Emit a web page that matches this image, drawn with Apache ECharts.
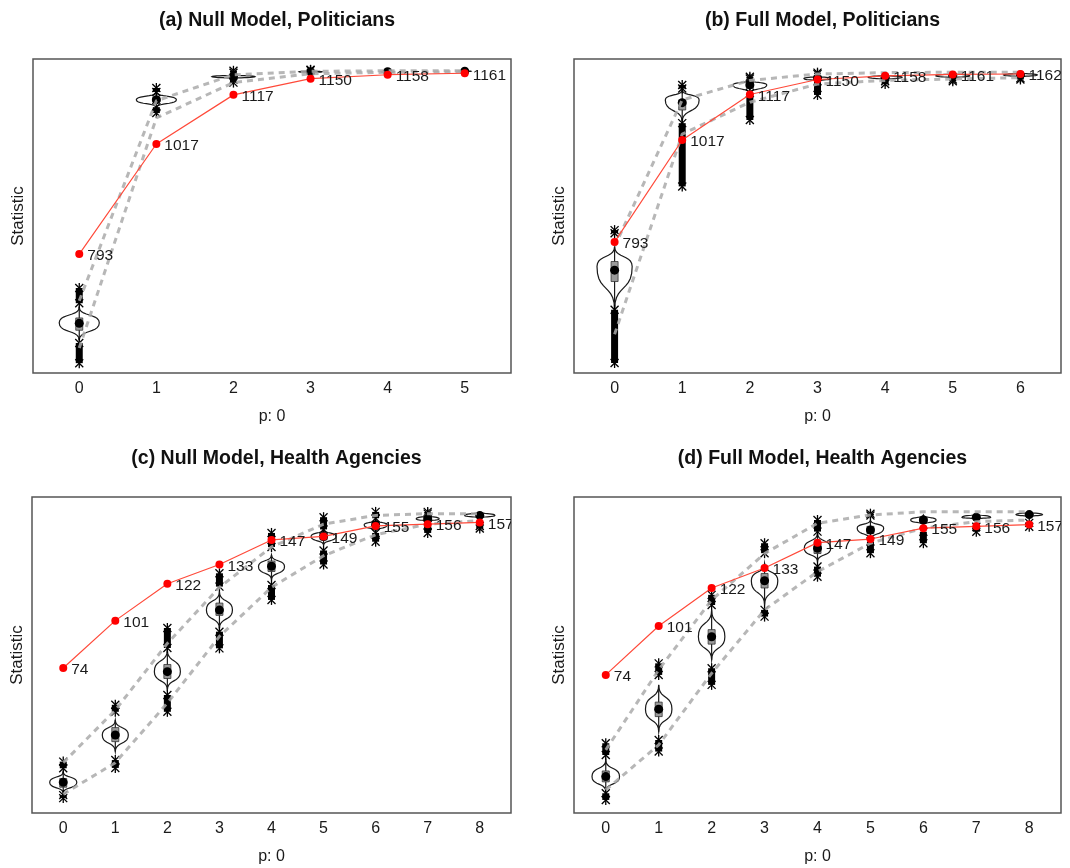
<!DOCTYPE html>
<html>
<head>
<meta charset="utf-8">
<script src="https://cdn.jsdelivr.net/npm/echarts@6/dist/echarts.min.js"></script>
<style>
    html, body { margin: 0; padding: 0; background: #fff; }
    #gof { width: 1070px; height: 868px; }
</style>
</head>
<body>
<div id="gof"></div>
<script>
// observed statistic (red line)
var obsA = [793, 1017, 1117, 1150, 1158, 1161];
var obsB = [793, 1017, 1117, 1150, 1158, 1161, 1162];
var obsC = [74, 101, 122, 133, 147, 149, 155, 156, 157];
var obsD = [74, 101, 122, 133, 147, 149, 155, 156, 157];

// simulated quantile lines (grey dashed)
var upperA = [698, 1105, 1158, 1165, 1166, 1166];
var lowerA = [602, 1070, 1142, 1160, 1163, 1164];
var upperB = [783, 1105, 1148, 1162, 1165, 1166, 1166];
var lowerB = [590, 1030, 1100, 1140, 1148, 1151, 1154];
var upperC = [20, 50, 88, 120, 143, 156, 161, 162, 162];
var lowerC = [2, 20, 54, 92, 120, 138, 150, 156, 158];
var upperD = [32.6, 76.8, 115.4, 141, 157.7, 162.3, 164, 164, 164];
var lowerD = [10.5, 35.4, 74.9, 109.9, 131, 146.7, 155, 158.6, 159.5];

// violins: [x, low, widest, high, half width]
var violinA = [[0, 618, 653, 685, 0.26], [1, 1091, 1107, 1122, 0.26], [2, 1150, 1154, 1158, 0.28],
    [3, 1162, 1164, 1166, 0.15], [4, 1163, 1164, 1166, 0.08], [5, 1164, 1165, 1166, 0.08]];
var violinB = [[0, 644, 739, 783, 0.26], [1, 1057, 1105, 1127, 0.25], [2, 1120, 1138, 1149, 0.25],
    [3, 1146, 1152, 1158, 0.2], [4, 1149, 1155, 1160, 0.25], [5, 1153, 1158, 1164, 0.25], [6, 1155, 1160, 1165, 0.25]];
var violinC = [[0, 2.5, 8.8, 14.8, 0.26], [1, 26.3, 35.8, 44.3, 0.25], [2, 61.4, 71.9, 84.3, 0.25],
    [3, 96.6, 107.1, 117.5, 0.25], [4, 124.2, 131.8, 138.5, 0.25], [5, 144, 149, 153, 0.24],
    [6, 151.8, 155.6, 158.4, 0.22], [7, 157.5, 159, 161.3, 0.22], [8, 159.4, 161, 163, 0.29]];
var violinD = [[0, 9.6, 17.9, 27.1, 0.26], [1, 42.7, 55.1, 68.5, 0.25], [2, 82.3, 95.1, 109.9, 0.25],
    [3, 112.6, 126, 135.6, 0.25], [4, 136.5, 143.9, 152.2, 0.25], [5, 148.5, 155, 159.5, 0.25],
    [6, 156.8, 159.5, 162.3, 0.24], [7, 160, 161, 163, 0.27], [8, 161.3, 162.5, 164, 0.25]];

// boxes: [x, q1, median, q3]
var boxA = [[0, 638, 652, 663], [1, 1102, 1107, 1112], [2, 1152, 1154, 1156], [3, 1163, 1164, 1165], [4, 1163, 1164, 1165], [5, 1164, 1165, 1166]];
var boxB = [[0, 706, 731, 750], [1, 1083, 1099, 1105], [2, 1130, 1138, 1142], [3, 1148, 1152, 1155], [4, 1153, 1155, 1157], [5, 1156, 1158, 1160], [6, 1158, 1160, 1162]];
var boxC = [[0, 6, 8.8, 11], [1, 32, 35.8, 40], [2, 68, 71.9, 76], [3, 104, 107, 111], [4, 129, 132, 135], [5, 147, 149, 151], [6, 154, 155.6, 157], [7, 158, 159, 160], [8, 160, 161, 162]];
var boxD = [[0, 15, 17.9, 21], [1, 51, 55.1, 59], [2, 91, 95.1, 99], [3, 122, 126, 130], [4, 141, 143.9, 147], [5, 152, 154, 156], [6, 158, 159.5, 161], [7, 160, 161, 162], [8, 161.5, 162.5, 163.5]];

// outlier clusters: [x, from, to]
var outA = [[0, 693, 724], [0, 571, 612], [1, 1123, 1131], [1, 1080, 1092], [2, 1162, 1166], [2, 1142, 1148], [3, 1167, 1168]];
var outB = [[0, 527, 644], [0, 812, 819], [1, 915, 1054], [1, 1130, 1138], [2, 1061, 1120], [2, 1152, 1156],
    [3, 1116, 1146], [3, 1162, 1165], [4, 1140, 1146], [5, 1146, 1150], [6, 1150, 1153]];
var outC = [[0, 16.8, 20.6], [0, -0.2, 1.5], [1, 49, 53], [1, 17, 21.5], [2, 85.4, 96.8], [2, 49, 58.6],
    [3, 120.4, 128], [3, 85.2, 94.7], [4, 143, 151], [4, 112.8, 121.3], [5, 153, 160], [5, 133, 141],
    [6, 159.4, 163], [6, 146, 151], [7, 162, 163], [7, 151, 155.6], [8, 153.5, 155]];
var outD = [[0, 29.8, 36.3], [0, 5, 8.7], [1, 74, 80.4], [1, 31.7, 38.1], [2, 112.6, 118.2], [2, 68.5, 77.7],
    [3, 141.2, 146.7], [3, 106.2, 109.9], [4, 153.1, 159.5], [4, 128.2, 133.8], [5, 162, 163], [5, 141.2, 147.6],
    [6, 146.7, 153], [7, 153, 155.8], [8, 155.8, 157.9]];

// tick labels
var ticksA = [0, 1, 2, 3, 4, 5];
var ticksB = [0, 1, 2, 3, 4, 5, 6];
var ticksC = [0, 1, 2, 3, 4, 5, 6, 7, 8];
var ticksD = [0, 1, 2, 3, 4, 5, 6, 7, 8];

var FONT = "'Liberation Sans', Arial, Helvetica, sans-serif";

var panels = [
    { title: '(a) Null Model, Politicians', obs: obsA, up: upperA, lo: lowerA, vio: violinA, box: boxA, out: outA, ticks: ticksA,
      ymin: 551, ymax: 1190, grid: { left: 33, top: 59, width: 478, height: 314 } },
    { title: '(b) Full Model, Politicians', obs: obsB, up: upperB, lo: lowerB, vio: violinB, box: boxB, out: outB, ticks: ticksB,
      ymin: 505, ymax: 1195, grid: { left: 574, top: 59, width: 487, height: 314 } },
    { title: '(c) Null Model, Health Agencies', obs: obsC, up: upperC, lo: lowerC, vio: violinC, box: boxC, out: outC, ticks: ticksC,
      ymin: -8.7, ymax: 171.5, grid: { left: 32, top: 497, width: 479, height: 316 } },
    { title: '(d) Full Model, Health Agencies', obs: obsD, up: upperD, lo: lowerD, vio: violinD, box: boxD, out: outD, ticks: ticksD,
      ymin: -2.2, ymax: 172.2, grid: { left: 574, top: 497, width: 487, height: 316 } }
];

function pairs(arr) {
    return arr.map(function (v, i) { return [i, v]; });
}

// sample one cubic bezier segment
function bez(p0, p1, p2, p3, n, out) {
    for (var k = 0; k <= n; k++) {
        var t = k / n, u = 1 - t;
        out.push([
            u * u * u * p0[0] + 3 * u * u * t * p1[0] + 3 * u * t * t * p2[0] + t * t * t * p3[0],
            u * u * u * p0[1] + 3 * u * u * t * p1[1] + 3 * u * t * t * p2[1] + t * t * t * p3[1]
        ]);
    }
}

function violinItem(params, api) {
    var x = api.value(0);
    var t = api.coord([x, api.value(3)]);
    var p = api.coord([x, api.value(2)]);
    var b = api.coord([x, api.value(1)]);
    var w = api.size([api.value(4), 0])[0];
    var cx = t[0];
    var d1 = (p[1] - t[1]) * 0.6, d2 = (b[1] - p[1]) * 0.6;
    var pts = [];
    bez([cx, t[1]], [cx, t[1] + d1], [cx + w, p[1] - d1], [cx + w, p[1]], 10, pts);
    bez([cx + w, p[1]], [cx + w, p[1] + d2], [cx, b[1] - d2], [cx, b[1]], 10, pts);
    bez([cx, b[1]], [cx, b[1] - d2], [cx - w, p[1] + d2], [cx - w, p[1]], 10, pts);
    bez([cx - w, p[1]], [cx - w, p[1] - d1], [cx, t[1] + d1], [cx, t[1]], 10, pts);
    return {
        type: 'group',
        children: [
            { type: 'polygon', shape: { points: pts }, style: { fill: 'rgba(0,0,0,0)', stroke: '#1a1a1a', lineWidth: 1.2 } },
            { type: 'line', shape: { x1: cx, y1: t[1], x2: cx, y2: b[1] }, style: { stroke: '#1a1a1a', lineWidth: 1.2 } }
        ]
    };
}

function boxItem(params, api) {
    var x = api.value(0);
    var q1 = api.coord([x, api.value(1)]);
    var md = api.coord([x, api.value(2)]);
    var q3 = api.coord([x, api.value(3)]);
    return {
        type: 'group',
        children: [
            { type: 'rect', shape: { x: q3[0] - 3.5, y: q3[1], width: 7, height: Math.max(q1[1] - q3[1], 2) },
              style: { fill: '#9a9a9a', stroke: '#333', lineWidth: 0.8 } },
            { type: 'circle', shape: { cx: md[0], cy: md[1], r: 4.5 }, style: { fill: '#000' } }
        ]
    };
}

function star(cx, cy, s) {
    var st = { stroke: '#000', lineWidth: 1.3 };
    return [
        { type: 'line', shape: { x1: cx - s, y1: cy - s, x2: cx + s, y2: cy + s }, style: st },
        { type: 'line', shape: { x1: cx - s, y1: cy + s, x2: cx + s, y2: cy - s }, style: st },
        { type: 'line', shape: { x1: cx, y1: cy - s - 1, x2: cx, y2: cy + s + 1 }, style: st }
    ];
}

function outlierItem(params, api) {
    var x = api.value(0);
    var a = api.coord([x, api.value(1)]);
    var b = api.coord([x, api.value(2)]);
    var top = Math.min(a[1], b[1]), bot = Math.max(a[1], b[1]);
    var kids = [{ type: 'rect', shape: { x: a[0] - 3.5, y: top, width: 7, height: bot - top }, style: { fill: '#000' } }];
    kids = kids.concat(star(a[0], top, 4), star(a[0], bot, 4));
    return { type: 'group', children: kids };
}

function labelItem(params, api) {
    var pt = api.coord([api.value(0), api.value(1)]);
    return {
        type: 'text',
        x: pt[0] + 8, y: pt[1] + 2,
        style: { text: String(api.value(1)), fill: '#1a1a1a', font: '15.5px ' + FONT, verticalAlign: 'middle', align: 'left' }
    };
}

var option = {
    backgroundColor: '#fff',
    animation: false,
    title: [],
    grid: [],
    xAxis: [],
    yAxis: [],
    series: []
};

panels.forEach(function (pn, i) {
    var n = pn.obs.length;
    // Add title
    option.title.push({
        text: pn.title,
        left: pn.grid.left + pn.grid.width / 2,
        top: pn.grid.top - 53,
        textAlign: 'center',
        textStyle: { fontFamily: FONT, fontSize: 19.5, fontWeight: 'bold', color: '#111' }
    });
    option.grid.push({ left: pn.grid.left, top: pn.grid.top, width: pn.grid.width, height: pn.grid.height,
        show: true, borderColor: '#555', borderWidth: 1.5, backgroundColor: '#fff' });
    option.xAxis.push({
        type: 'value', gridIndex: i, min: -0.6, max: n - 1 + 0.6,
        name: 'p: 0', nameLocation: 'middle', nameGap: 36,
        nameTextStyle: { fontFamily: FONT, fontSize: 16, color: '#1a1a1a' },
        axisLine: { show: false }, axisTick: { show: false }, splitLine: { show: false },
        axisLabel: { customValues: pn.ticks, margin: 8, fontFamily: FONT, fontSize: 16, color: '#1a1a1a' }
    });
    option.yAxis.push({
        type: 'value', gridIndex: i, min: pn.ymin, max: pn.ymax,
        name: 'Statistic', nameLocation: 'middle', nameGap: 6,
        nameTextStyle: { fontFamily: FONT, fontSize: 17, color: '#1a1a1a' },
        axisLine: { show: false }, axisTick: { show: false }, splitLine: { show: false }, axisLabel: { show: false }
    });

    // violins, boxes, outliers
    option.series.push({ type: 'custom', xAxisIndex: i, yAxisIndex: i, renderItem: violinItem, data: pn.vio, z: 2, clip: true });
    option.series.push({ type: 'custom', xAxisIndex: i, yAxisIndex: i, renderItem: outlierItem, data: pn.out, z: 2, clip: true });
    option.series.push({ type: 'custom', xAxisIndex: i, yAxisIndex: i, renderItem: boxItem, data: pn.box, z: 3, clip: true });

    // grey dashed quantile lines
    [pn.up, pn.lo].forEach(function (arr) {
        option.series.push({
            type: 'line', xAxisIndex: i, yAxisIndex: i, data: pairs(arr), symbol: 'none', z: 4,
            lineStyle: { color: 'rgba(170,170,170,0.85)', width: 3, type: [6, 5] }
        });
    });

    // observed values
    option.series.push({
        type: 'line', xAxisIndex: i, yAxisIndex: i, data: pairs(pn.obs), z: 5,
        symbol: 'circle', symbolSize: 8,
        lineStyle: { color: '#ff4a3a', width: 1.2 },
        itemStyle: { color: '#ff0000' }
    });
    option.series.push({ type: 'custom', xAxisIndex: i, yAxisIndex: i, renderItem: labelItem, data: pairs(pn.obs), z: 6, clip: true });
});

var gofChart = echarts.init(document.getElementById('gof'));
gofChart.setOption(option);
</script>
</body>
</html>
